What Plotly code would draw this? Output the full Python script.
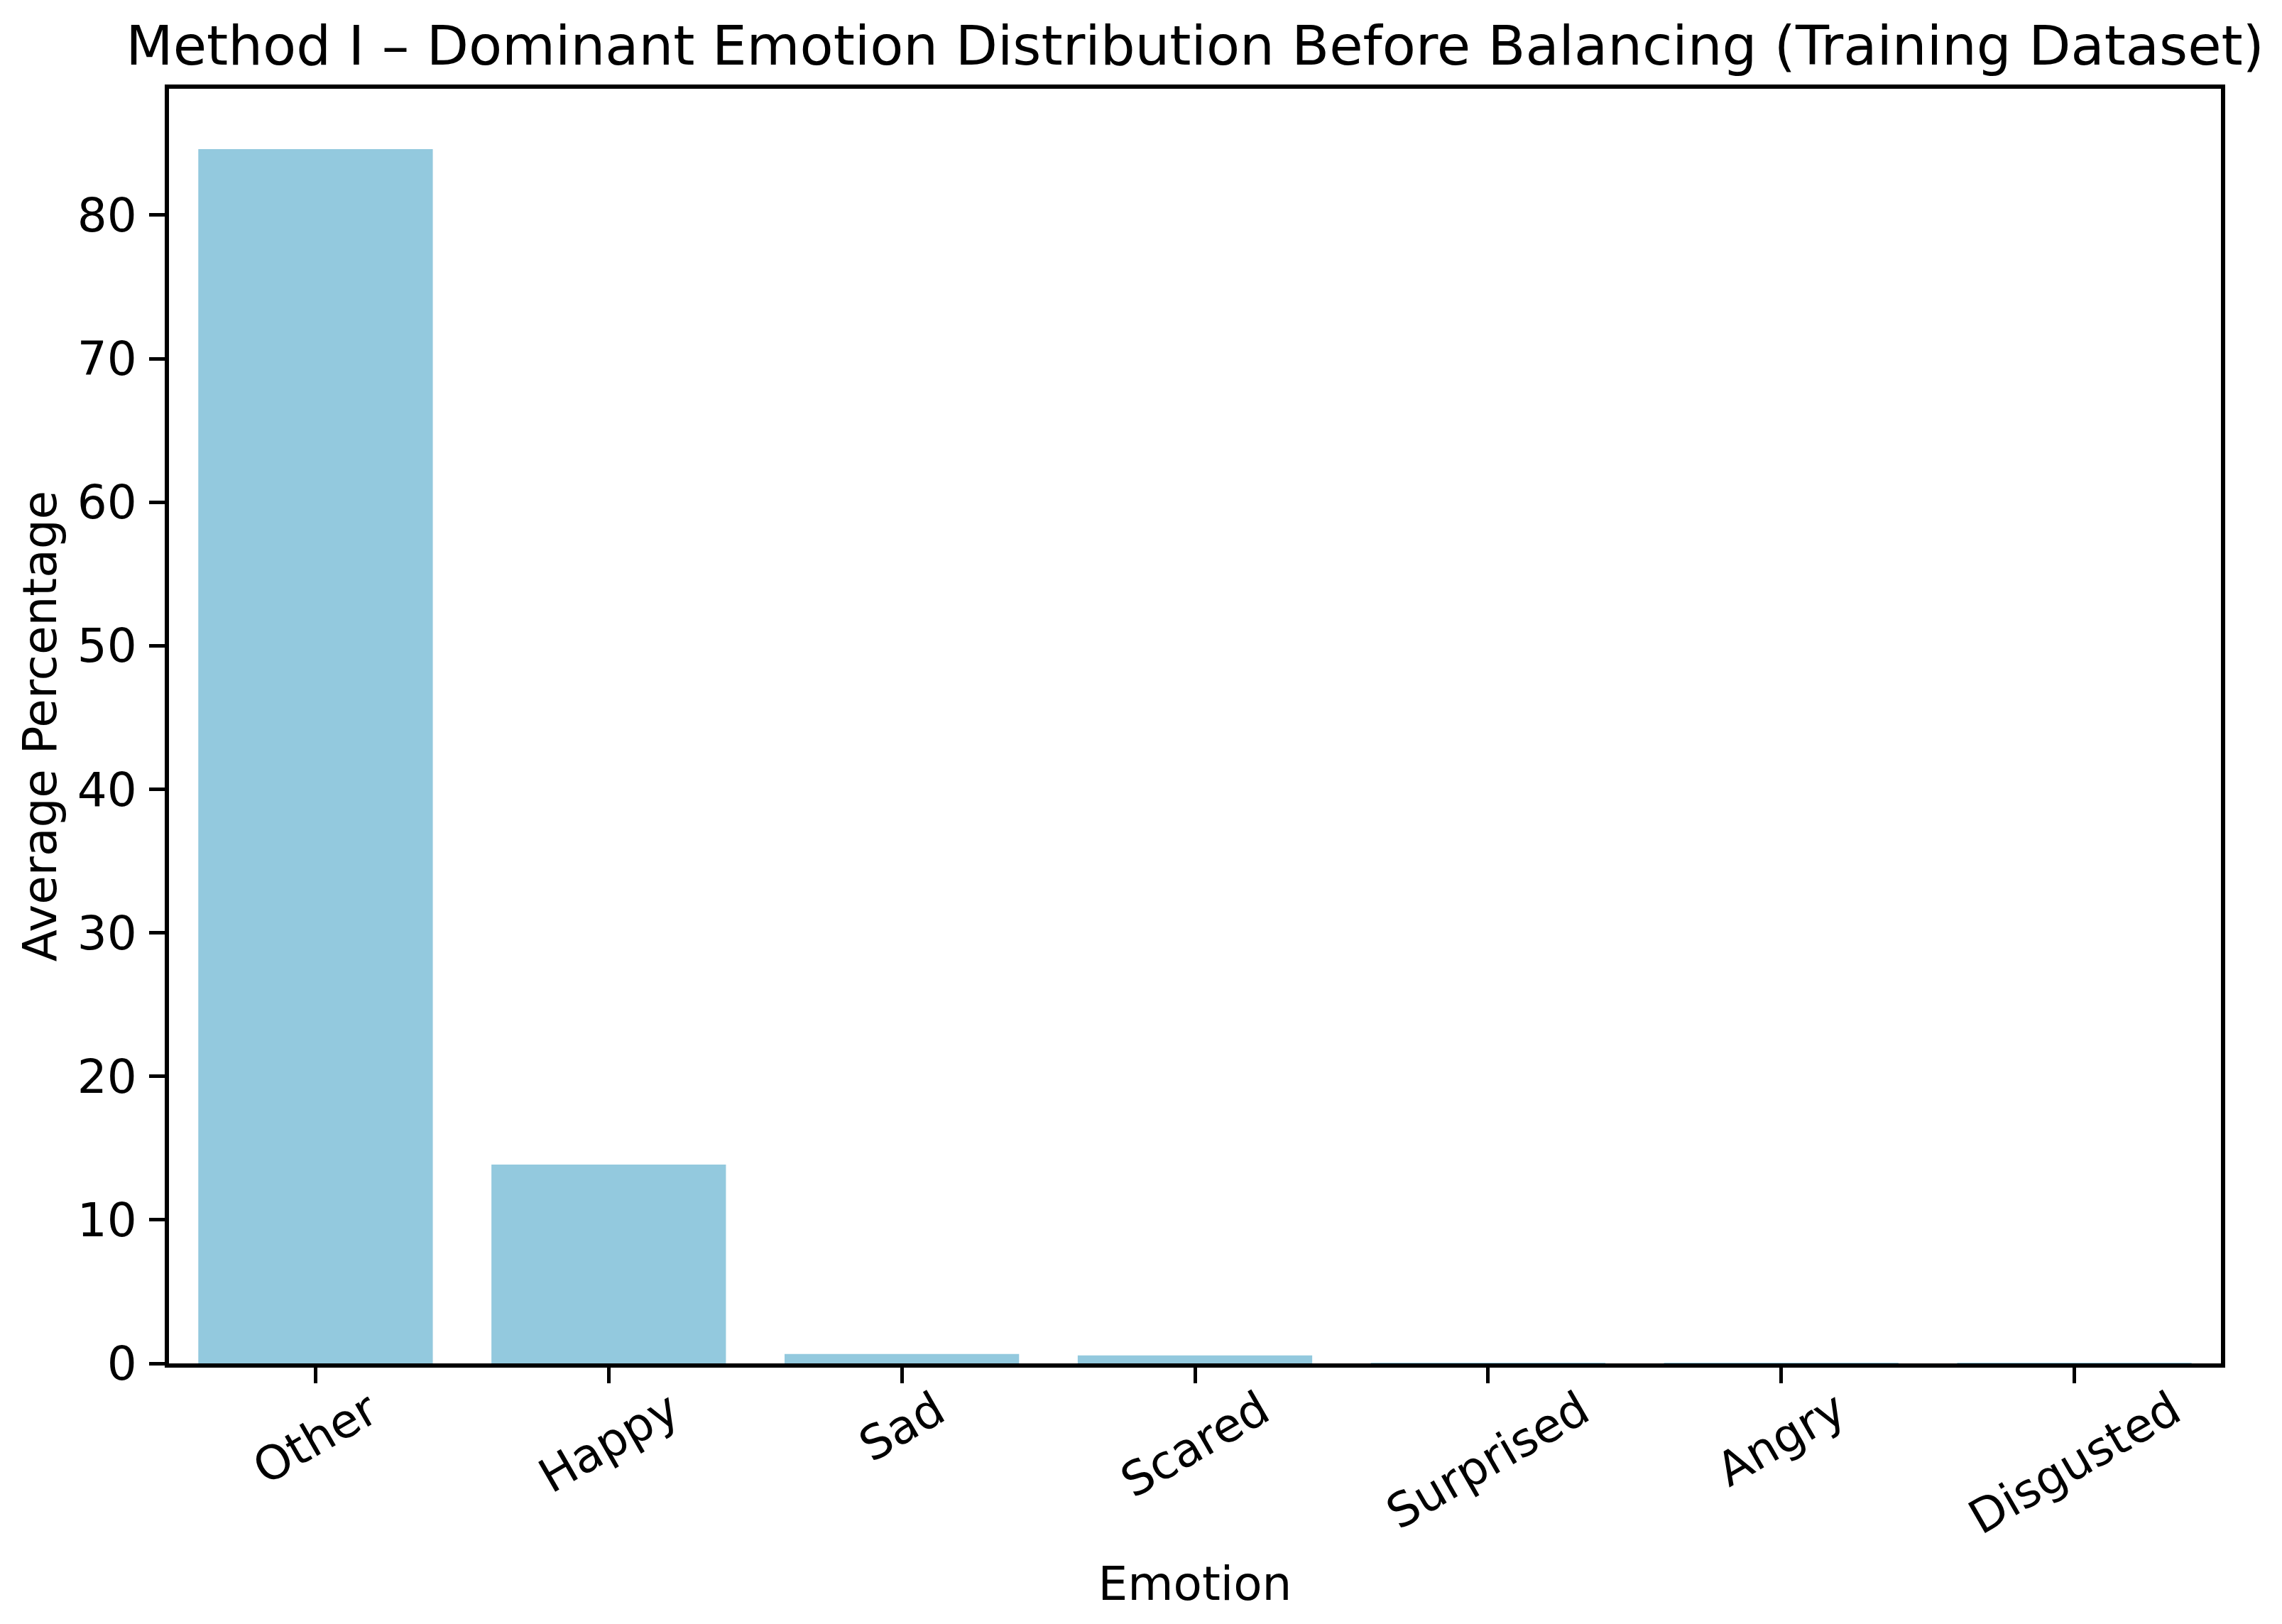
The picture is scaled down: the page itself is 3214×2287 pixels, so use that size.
import plotly.graph_objects as go

# Data
emotions = ["Other", "Happy", "Sad", "Scared", "Surprised", "Angry", "Disgusted"]
avg_percentage = [84.6, 13.85, 0.66, 0.56, 0.03, 0.02, 0.01]
y_ticks = [0, 10, 20, 30, 40, 50, 60, 70, 80]

BAR_COLOR = "#93C9DE"
FONT = "DejaVu Sans"
# page body has an 8px margin, so the figure is sized to fill the rest of the window
W, H = 3206, 2279
L, R, T, B = 230, 86, 117, 367

fig = go.Figure()
fig.add_trace(go.Bar(
    x=emotions,
    y=avg_percentage,
    width=0.8,
    marker=dict(color=BAR_COLOR, line=dict(width=0)),
    showlegend=False,
))

# rotated, centred category labels (matplotlib rotation=30 style)
annotations = []
for e in emotions:
    annotations.append(dict(
        x=e, xref="x", y=0, yref="paper",
        text=e, showarrow=False, textangle=-30,
        xanchor="center", yanchor="top", yshift=-22,
        font=dict(family=FONT, size=66, color="black"),
    ))

fig.update_layout(
    width=W, height=H,
    margin=dict(l=L, r=R, t=T, b=B, autoexpand=False),
    paper_bgcolor="white",
    plot_bgcolor="white",
    font=dict(family=FONT, size=66, color="black"),
    title=dict(
        text="Method I – Dominant Emotion Distribution Before Balancing (Training Dataset)",
        x=0.5, xref="paper", xanchor="center",
        y=1 - 56 / H, yref="container", yanchor="middle",
        font=dict(family=FONT, size=77, color="black"),
    ),
    bargap=0.2,
    annotations=annotations,
)

fig.update_xaxes(
    type="category",
    categoryorder="array", categoryarray=emotions,
    range=[-0.5, 6.5],
    showline=True, linecolor="black", linewidth=6, mirror=True,
    ticks="outside", ticklen=22, tickwidth=5, tickcolor="black",
    showticklabels=False,
    showgrid=False, zeroline=False,
    title=dict(text="Emotion", font=dict(family=FONT, size=66, color="black"), standoff=262),
    automargin=False,
)
fig.update_yaxes(
    range=[0, 88.8],
    tickmode="array", tickvals=y_ticks, ticktext=[str(v) for v in y_ticks],
    showline=True, linecolor="black", linewidth=6, mirror=True,
    ticks="outside", ticklen=22, tickwidth=5, tickcolor="black",
    tickfont=dict(family=FONT, size=66, color="black"),
    ticklabelstandoff=4,
    showgrid=False, zeroline=False,
    title=dict(text="Average Percentage", font=dict(family=FONT, size=66, color="black"), standoff=10),
    automargin=False,
)

fig.write_html("out.html")
